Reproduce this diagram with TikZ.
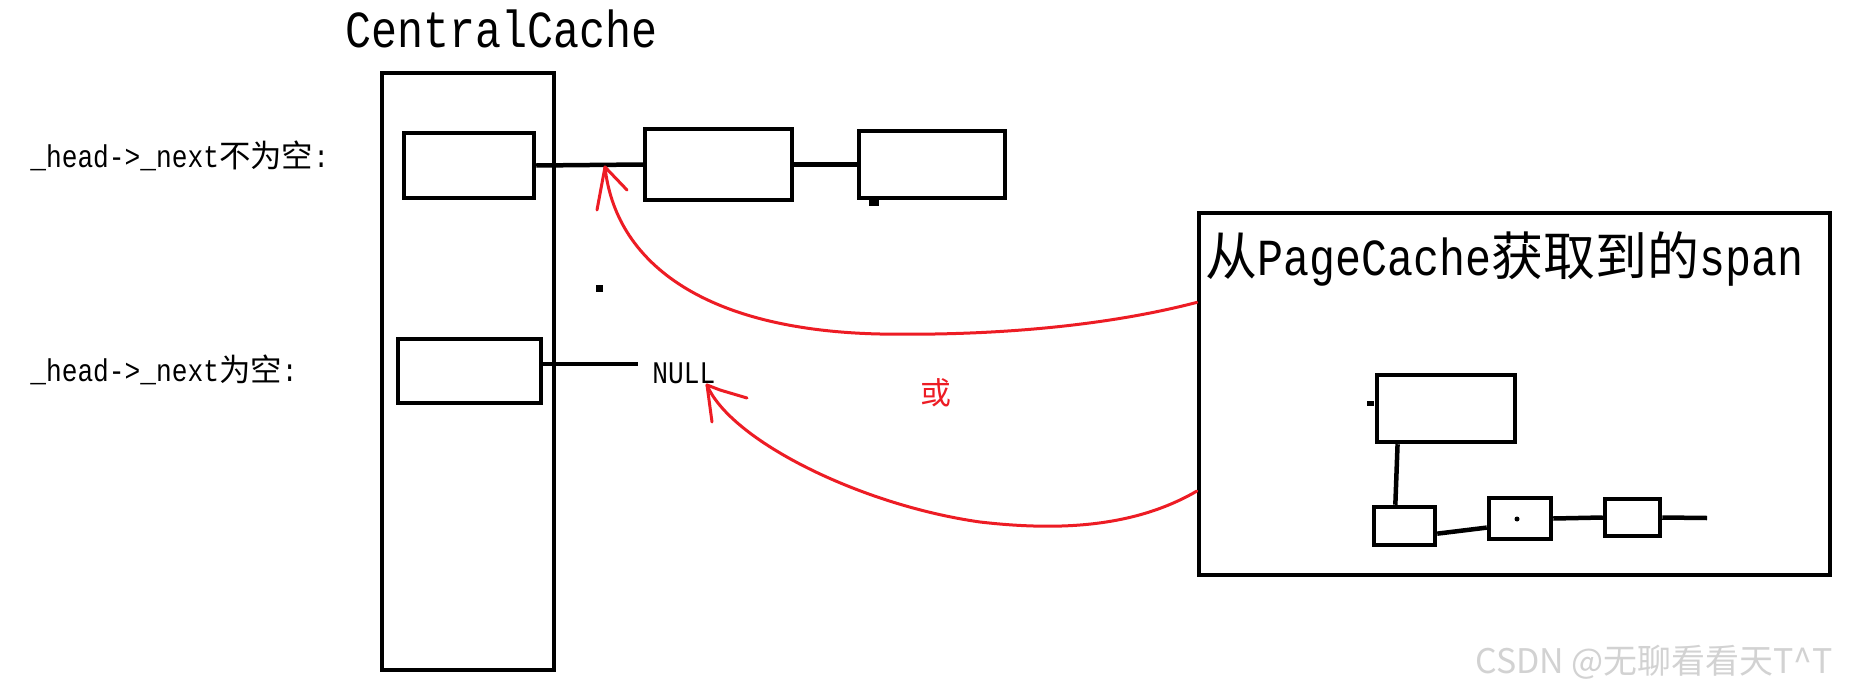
\documentclass[tikz,border=0pt]{standalone}
\usepackage{fontspec}
\setmainfont{Liberation Mono}[FakeStretch=0.8333]
\newfontfamily\cjk{Noto Sans CJK SC}
\usepackage{tikz}
\usetikzlibrary{calc}
\definecolor{penred}{HTML}{ED1C24}
\definecolor{wmgray}{HTML}{D2D2D2}
\tikzset{
  cell/.style={draw,line width=0.09cm,inner sep=0pt},
  link/.style={line width=0.09cm},
  redpen/.style={draw=penred,line width=0.06cm,line cap=round,line join=round},
  bigtxt/.style={inner sep=0pt,anchor=base west,font=\fontsize{29.6}{32}\selectfont},
  smalltxt/.style={inner sep=0pt,anchor=base west,font=\fontsize{17.9}{20}\selectfont}
}
\begin{document}
\begin{tikzpicture}[x=0.02cm,y=-0.02cm]
\path[fill=white,use as bounding box] (0,0) rectangle (1856,693);
\node[bigtxt] (ctitle) at (345,48) {CentralCache};
\node[smalltxt] (lab1) at (30,167) {\_head->\_next{\cjk 不为空}:};
\node[smalltxt] (lab2) at (30,381) {\_head->\_next{\cjk 为空}:};
\node[cell,minimum width=3.44cm,minimum height=11.94cm] (cache) at (468,371.5) {};
\node[cell,minimum width=2.6cm,minimum height=1.3cm] (head1) at (469,165.5) {};
\node[cell,minimum width=2.86cm,minimum height=1.28cm] (head2) at (469.5,371) {};
\node[cell,minimum width=2.94cm,minimum height=1.42cm] (obj1) at (718.5,164.5) {};
\node[cell,minimum width=2.92cm,minimum height=1.34cm] (obj2) at (932,164.5) {};
\node[smalltxt] (nul) at (652,383) {NULL};
\coordinate (nulend) at (638,364);
\draw[link] (head1.east) -- (obj1.west);
\draw[link] (obj1.east) -- (obj2.west);
\draw[link] (head2.east|-nulend) -- (nulend);
\fill (869,200) rectangle (879,206);
\fill (596,285) rectangle (603,292);
\node[cell,minimum width=12.62cm,minimum height=7.24cm] (span) at (1514.5,394) {};
\node[bigtxt] (stitle) at (1205,275) {{\cjk 从}PageCache{\cjk 获取到的}span};
\node[cell,minimum width=2.76cm,minimum height=1.34cm] (p0) at (1446,408.5) {};
\node[cell,minimum width=1.22cm,minimum height=0.76cm] (p1) at (1404.5,526) {};
\node[cell,minimum width=1.24cm,minimum height=0.82cm] (p2) at (1520,518.5) {};
\node[cell,minimum width=1.1cm,minimum height=0.74cm] (p3) at (1632.5,517.5) {};
\coordinate (tail) at (1707,518);
\draw[link] ($(p0.south west)!0.16!(p0.south east)$) -- ($(p1.north west)!0.36!(p1.north east)$);
\draw[link] ($(p1.south east)!0.32!(p1.north east)$) -- ($(p2.south west)!0.3!(p2.north west)$);
\draw[link] (p2.east) -- (p3.west);
\draw[link] (p3.east) -- (tail);
\fill (1367,401) rectangle (1374,406);
\fill (1517,519) circle (2.5);
\coordinate (tipA) at (605,167);
\coordinate (tipB) at (707,385);
\draw[redpen] ($(span.north west)!0.25!(span.south west)$) .. controls (1110,325) and (1000,336) .. (880,334)
  .. controls (700,330) and (615,260) .. (tipA);
\draw[redpen] (tipA) -- ++(-8,43);
\draw[redpen] (tipA) -- ++(22,23);
\draw[redpen] ($(span.north west)!0.765!(span.south west)$) .. controls (1130,530) and (1050,530) .. (980,522)
  .. controls (860,505) and (730,440) .. (tipB);
\draw[redpen] (tipB) -- ++(5,37);
\draw[redpen] (tipB) -- ++(13,5) -- ++(27,8);
\node[text=penred,font=\cjk\fontsize{17.6}{20}\selectfont] (or) at (936,393) {或};
\node[inner sep=0pt,anchor=base west,text=wmgray,font=\cjk\fontsize{19.3}{22}\selectfont] (mark) at (1475,673) {CSDN @无聊看看天T\textasciicircum T};
\end{tikzpicture}
\end{document}
